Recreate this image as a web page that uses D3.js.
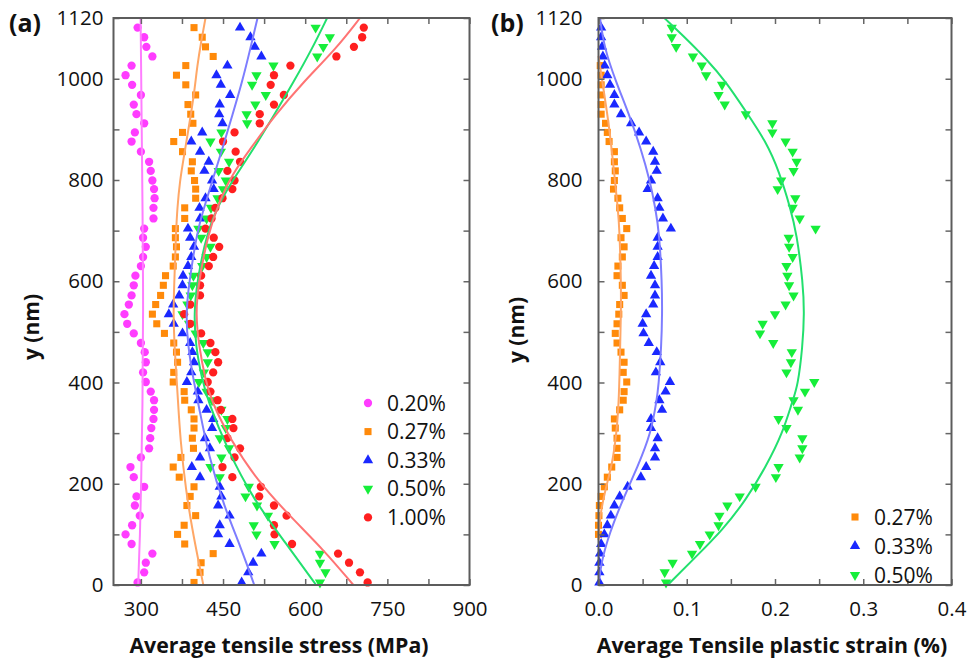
<!DOCTYPE html>
<html><head><meta charset="utf-8">
<script src="https://cdn.jsdelivr.net/npm/d3@7"></script>
<style>
body{margin:0;background:#fff}
svg{display:block}
text{font-family:"Open Sans",sans-serif;fill:#111}
</style>
</head><body>
<svg id="c" width="968" height="661"></svg>
<script>
// ---------- data ----------
const yLevels = [1101,1082,1063,1044,1026,1007,988,968,949,930,912,894,876,856,836,818,799,782,764,745,724,704,686,668,648,630,611,592,572,554,535,516,497,478,460,440,420,401,382,365,346,328,310,290,270,252,233,213,194,175,157,137,118,100,81,62,44,25,5];

// (a) average tensile stress (MPa)
const a020 = [294,306,310,321,283,272,284,300,287,292,306,289,283,300,315,318,321,324,325,323,323,306,304,309,304,300,290,287,283,278,270,275,287,300,307,309,304,309,318,324,324,323,319,317,315,300,281,287,306,292,289,298,284,272,283,321,309,306,294];
const a027 = [397,412,418,432,382,365,382,400,386,391,395,376,360,376,394,392,398,400,400,380,380,363,363,365,363,359,345,341,336,327,321,329,343,360,365,367,360,359,379,380,392,397,397,394,396,373,359,370,397,390,384,400,379,367,380,432,410,408,397];
const a033 = [481,500,508,520,458,438,446,463,444,443,449,412,392,408,424,416,430,433,418,407,408,386,390,397,392,386,377,376,370,359,351,360,376,390,394,397,392,384,404,405,420,432,430,417,426,408,393,408,444,447,441,462,444,441,462,520,505,496,484];
const a050 = [619,645,633,622,542,511,503,528,509,493,494,447,427,446,461,442,455,450,440,428,420,405,410,427,420,412,396,394,391,385,376,388,400,414,422,422,415,406,420,430,447,458,455,444,461,447,427,444,497,491,512,532,506,511,544,627,627,637,627];
const a100 = [707,704,689,657,573,543,537,561,543,517,517,471,450,473,481,458,471,467,449,436,429,418,433,443,432,424,410,408,408,390,379,390,410,427,436,441,432,422,427,440,446,467,469,458,481,471,449,467,519,516,543,566,543,544,576,660,680,700,714];

// (b) average tensile plastic strain (%)
const b027 = [null,null,null,null,0.002,0.003,0.003,0.003,0.003,0.003,0.008,0.010,0.012,0.018,0.018,0.019,0.018,0.017,0.022,0.024,0.027,0.032,0.0255,0.029,0.027,0.022,0.021,0.027,0.029,0.024,0.023,0.021,0.019,0.021,0.0255,0.029,0.028,0.032,0.029,0.028,0.024,0.018,0.019,0.021,0.021,0.021,0.015,0.010,0.0066,0.003,0.001,0.0005,0.0,0.0,null,null,null,null,null];
const b033 = [0.003,0.003,0.004,0.005,0.007,0.010,0.013,0.018,0.018,0.0255,0.037,0.046,0.054,0.062,0.064,0.066,0.0595,0.0557,0.067,0.069,0.073,0.082,0.067,0.067,0.067,0.063,0.0595,0.064,0.064,0.062,0.054,0.050,0.051,0.057,0.066,0.070,0.065,0.081,0.076,0.069,0.072,0.0595,0.0595,0.067,0.064,0.064,0.054,0.048,0.033,0.024,0.018,0.014,0.010,0.0066,0.003,0.0017,0.001,0.001,0.001];
const b050 = [0.083,0.083,0.088,0.107,0.117,0.122,0.140,0.136,0.143,0.167,0.197,0.197,0.212,0.220,0.2245,0.221,0.207,0.203,0.223,0.220,0.228,0.246,0.2155,0.216,0.220,0.213,0.214,0.216,0.221,0.212,0.200,0.186,0.183,0.198,0.219,0.218,0.213,0.2445,0.234,0.221,0.226,0.204,0.213,0.231,0.231,0.228,0.204,0.201,0.178,0.160,0.146,0.137,0.136,0.126,0.115,0.106,0.084,0.075,0.0765];

// fitted curves: [y (nm), value]
const fitA020 = [[1120,299.5],[900,301.5],[750,303],[540,304.5],[350,303],[200,300.5],[100,298.5],[0,295]];
const fitA027 = [[1120,418],[1073,410],[1027,403],[968,397],[908,388],[849,379],[797,371],[744,366.5],[695,364],[596,361],[536,359],[458,362],[378,367],[286,372],[188,382],[109,394],[43,406],[0,414]];
const fitA033 = [[1120,513],[1060,500],[994,485],[928,467],[862,449],[797,430],[744,415],[695,402],[596,388],[536,382],[471,386],[405,396],[352,406],[253,424],[155,452],[76,482],[0,507]];
const fitA050 = [[1120,640],[1060,613],[994,579],[928,543],[862,506],[810,474],[757,444],[695,420],[596,402],[536,397],[471,400],[405,412],[365,422],[267,458],[168,506],[82,565],[0,620]];
const fitA100 = [[1120,700],[1060,657],[994,597],[928,545],[862,500],[810,466],[757,443],[695,423],[596,405],[536,400],[471,406],[405,418],[365,428],[286,464],[207,512],[135,573],[69,634],[0,688]];
const fitB027 = [[1045,0.0],[975,0.006],[908,0.012],[810,0.018],[744,0.022],[695,0.024],[596,0.0255],[536,0.0255],[471,0.0245],[392,0.0236],[319,0.0217],[240,0.016],[188,0.0075],[135,0.0015],[89,0.0]];
const fitB033 = [[1120,0.0017],[1060,0.0066],[994,0.0198],[928,0.035],[862,0.048],[797,0.0585],[744,0.0645],[695,0.0689],[596,0.0719],[536,0.0722],[471,0.0712],[392,0.068],[365,0.0659],[300,0.0595],[234,0.0444],[168,0.0274],[102,0.0123],[43,0.0028],[0,0.0002]];
const fitB050 = [[1120,0.0746],[1086,0.0954],[1040,0.1218],[994,0.1445],[935,0.1671],[876,0.1898],[816,0.2049],[744,0.2175],[695,0.2245],[596,0.2318],[536,0.2332],[471,0.2313],[392,0.2257],[365,0.22],[300,0.2087],[234,0.1898],[168,0.1671],[109,0.1407],[56,0.1105],[0,0.0784]];

const legendA = ["0.20%","0.27%","0.33%","0.50%","1.00%"];
const legendB = ["0.27%","0.33%","0.50%"];
const yTickVals = [0,200,400,600,800,1000,1120];
const yMinorVals = [100,300,500,700,900];
const xTicksA = [300,450,600,750,900];
const xMinorA = [375,525,675,825];
const xTicksB = [0,0.1,0.2,0.3,0.4];
const xMinorB = [0.05,0.15,0.25,0.35];

// ---------- styles ----------
const sty = {
  "0.20%": {fill:"#ff3cff", line:"#ff7dff", shape:"circle"},
  "0.27%": {fill:"#ff8a0a", line:"#ffa766", shape:"square"},
  "0.33%": {fill:"#1a28ff", line:"#7d7dff", shape:"up"},
  "0.50%": {fill:"#16ee3a", line:"#22e06e", shape:"down"},
  "1.00%": {fill:"#ff1f1f", line:"#ff7474", shape:"circle"}
};
function symPath(shape){
  if(shape==="circle") return d3.symbol(d3.symbolCircle, 54)();
  if(shape==="square") return d3.symbol(d3.symbolSquare, 50)();
  return d3.symbol(d3.symbolTriangle, 46)();
}
function symTransform(shape,x,y){
  return `translate(${x},${y})` + (shape==="down" ? " rotate(180)" : "");
}

const svg = d3.select("#c");
const y = d3.scaleLinear().domain([0,1120]).range([585,18]);

function panel(cfg){
  const x = cfg.x;
  const [x0,x1] = x.range();
  const g = svg.append("g");
  // points
  cfg.series.forEach(s=>{
    const st = sty[s.name];
    const pts = yLevels.map((yy,i)=>[yy,s.vals[i]]).filter(d=>d[1]!==null);
    g.append("g").selectAll("path").data(pts).join("path")
      .attr("d", symPath(st.shape))
      .attr("transform", d=>symTransform(st.shape, x(d[1]), y(d[0])))
      .attr("fill", st.fill);
  });
  // fitted lines
  const line = d3.line().x(d=>x(d[1])).y(d=>y(d[0])).curve(d3.curveBasis);
  cfg.fits.forEach(f=>{
    g.append("path").attr("d", line(f.pts)).attr("fill","none")
      .attr("stroke", sty[f.name].line).attr("stroke-width",2);
  });
  // axes
  const tickCol = "#666";
  const xAll = cfg.xTicks.concat(cfg.xMinor);
  const yAll = yTickVals.concat(yMinorVals);
  const ax = g.append("g").attr("transform",`translate(0,585)`)
    .call(d3.axisBottom(x).tickValues(xAll).tickSize(-6).tickPadding(16)
      .tickFormat(d=>cfg.xTicks.includes(d)?cfg.xFmt(d):""));
  const axT = g.append("g").attr("transform",`translate(0,18)`)
    .call(d3.axisTop(x).tickValues(xAll).tickSize(-6).tickFormat(""));
  const ay = g.append("g").attr("transform",`translate(${x0},0)`)
    .call(d3.axisLeft(y).tickValues(yAll).tickSize(-6).tickPadding(cfg.yPad)
      .tickFormat(d=>yTickVals.includes(d)?d:""));
  const ayR = g.append("g").attr("transform",`translate(${x1},0)`)
    .call(d3.axisRight(y).tickValues(yAll).tickSize(-6).tickFormat(""));
  [ax,axT,ay,ayR].forEach(a=>{
    a.select(".domain").remove();
    a.selectAll(".tick line").attr("stroke",tickCol).attr("stroke-width",1.5);
    a.selectAll("text").attr("font-family",'"Open Sans",sans-serif').attr("font-size",20.5).attr("fill","#111");
  });
  // frame
  g.append("rect").attr("x",x0).attr("y",18).attr("width",x1-x0).attr("height",567)
    .attr("fill","none").attr("stroke","#5c5c5c").attr("stroke-width",2);
  // titles
  g.append("text").attr("x",cfg.titleX).attr("y",653).attr("text-anchor","middle")
    .attr("font-size",21.3).attr("font-weight","bold").text(cfg.title);
  g.append("text").attr("transform",`translate(${cfg.yTitleX},${cfg.yTitleY}) rotate(-90)`)
    .attr("text-anchor","middle").attr("font-size",21).attr("font-weight","bold").text("y (nm)");
  g.append("text").attr("x",cfg.tagX).attr("y",32).attr("font-size",25).attr("font-weight","bold").text(cfg.tag);
  // legend
  cfg.legend.forEach((name,i)=>{
    const st = sty[name];
    const ly = cfg.legY + i*cfg.legDy;
    g.append("path").attr("d",symPath(st.shape))
      .attr("transform",symTransform(st.shape,cfg.legX,ly)).attr("fill",st.fill);
    g.append("text").attr("x",cfg.legX+19).attr("y",ly).attr("dy","0.36em")
      .attr("font-size",21).text(name);
  });
}

panel({
  x: d3.scaleLinear().domain([250,900]).range([113.5,469.5]),
  xTicks: xTicksA, xMinor: xMinorA, xFmt: d=>d,
  yPad: 10,
  series: [{name:"0.20%",vals:a020},{name:"0.27%",vals:a027},{name:"0.33%",vals:a033},{name:"0.50%",vals:a050},{name:"1.00%",vals:a100}],
  fits: [{name:"0.20%",pts:fitA020},{name:"0.27%",pts:fitA027},{name:"0.33%",pts:fitA033},{name:"0.50%",pts:fitA050},{name:"1.00%",pts:fitA100}],
  title: "Average tensile stress (MPa)", titleX: 279,
  yTitleX: 39, yTitleY: 327, tag: "(a)", tagX: 9,
  legend: legendA, legX: 368, legY: 403, legDy: 28.6
});

panel({
  x: d3.scaleLinear().domain([0,0.4]).range([598.5,951.5]),
  xTicks: xTicksB, xMinor: xMinorB, xFmt: d3.format(".1f"),
  yPad: 16,
  series: [{name:"0.27%",vals:b027},{name:"0.33%",vals:b033},{name:"0.50%",vals:b050}],
  fits: [{name:"0.27%",pts:fitB027},{name:"0.33%",pts:fitB033},{name:"0.50%",pts:fitB050}],
  title: "Average Tensile plastic strain (%)", titleX: 772,
  yTitleX: 524, yTitleY: 330, tag: "(b)", tagX: 491,
  legend: legendB, legX: 855, legY: 517, legDy: 29
});
</script>
</body></html>
